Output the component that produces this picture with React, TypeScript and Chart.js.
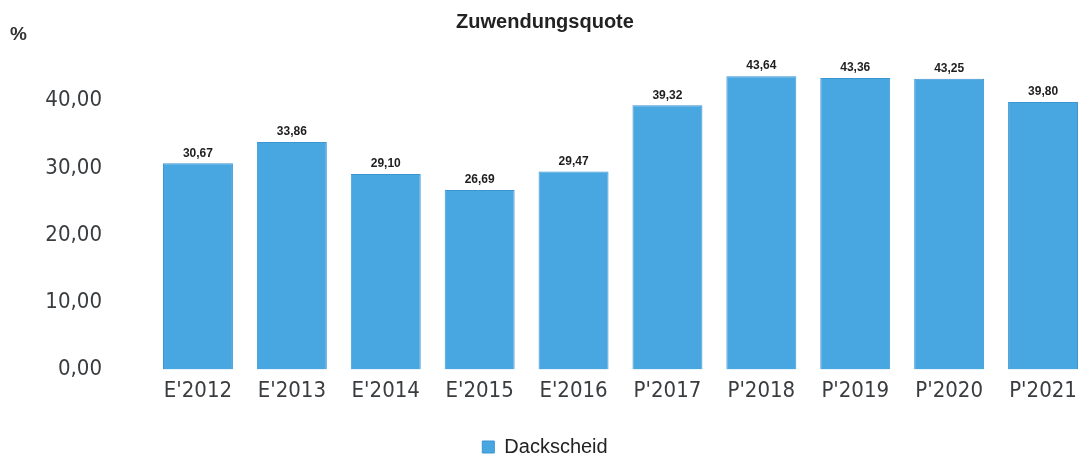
import React, { useEffect, useRef } from 'react';
import { Chart, registerables } from 'chart.js';

Chart.register(...registerables);

const categories: string[] = ["E'2012", "E'2013", "E'2014", "E'2015", "E'2016", "P'2017", "P'2018", "P'2019", "P'2020", "P'2021"];
const values: number[] = [30.67, 33.86, 29.10, 26.69, 29.47, 39.32, 43.64, 43.36, 43.25, 39.80];
const seriesName = 'Dackscheid';
const chartTitle = 'Zuwendungsquote';
const unitLabel = '%';
const yMin = 0;
const yMax = 45;
const yStep = 10;

const fmt = (v: number) => v.toFixed(2).replace('.', ',');

const tickFont = { family: '"DejaVu Sans Condensed", "DejaVu Sans", sans-serif', size: 22 };

const valueLabelPlugin = {
  id: 'valueLabels',
  afterDatasetsDraw(chart: any) {
    const ctx = chart.ctx;
    const meta = chart.getDatasetMeta(0);
    ctx.save();
    ctx.font = 'bold 12px "Liberation Sans", Arial, sans-serif';
    ctx.fillStyle = '#1e1e1e';
    ctx.textAlign = 'center';
    ctx.textBaseline = 'bottom';
    meta.data.forEach((el: any, i: number) => {
      ctx.fillText(fmt(values[i]), el.x, el.y - 4);
    });
    ctx.restore();
  },
};

const unitPlugin = {
  id: 'unitLabel',
  afterDraw(chart: any) {
    const ctx = chart.ctx;
    ctx.save();
    ctx.font = 'bold 19px "Liberation Sans", Arial, sans-serif';
    ctx.fillStyle = '#333333';
    ctx.textAlign = 'left';
    ctx.textBaseline = 'middle';
    ctx.fillText(unitLabel, 10, 35);
    ctx.restore();
  },
};

export default function App() {
  const canvasRef = useRef<HTMLCanvasElement | null>(null);

  useEffect(() => {
    if (!canvasRef.current) return;
    const chart = new Chart(canvasRef.current, {
      type: 'bar',
      data: {
        labels: categories,
        datasets: [
          {
            label: seriesName,
            data: values,
            backgroundColor: '#48a6e0',
            borderColor: '#3b96d2',
            borderWidth: 1,
            categoryPercentage: 1,
            barPercentage: 0.745,
          },
        ],
      },
      options: {
        animation: false,
        responsive: true,
        maintainAspectRatio: false,
        layout: { padding: { left: 0, right: 8, top: 0, bottom: 0 } },
        plugins: {
          title: {
            display: true,
            text: chartTitle,
            color: '#222222',
            font: { family: '"Liberation Sans", Arial, sans-serif', size: 20, weight: 'bold' },
            padding: { top: 10, bottom: 33 },
          },
          legend: {
            display: true,
            position: 'bottom',
            labels: {
              boxWidth: 12,
              boxHeight: 12,
              padding: 25,
              color: '#222222',
              font: { family: '"Liberation Sans", Arial, sans-serif', size: 20 },
            },
          },
          tooltip: { enabled: false },
        },
        scales: {
          x: {
            grid: { display: false, drawTicks: false },
            border: { display: false },
            ticks: { color: '#3a3d40', font: tickFont, padding: 8, maxRotation: 0, autoSkip: false },
          },
          y: {
            min: yMin,
            max: yMax,
            grid: { display: false, drawTicks: false },
            border: { display: false },
            afterFit: (scale: any) => {
              scale.width = 151;
            },
            ticks: {
              stepSize: yStep,
              includeBounds: false,
              color: '#3a3d40',
              font: tickFont,
              padding: 49,
              callback: (v: any) => fmt(Number(v)),
            },
          },
        },
      },
      plugins: [valueLabelPlugin, unitPlugin],
    });
    return () => chart.destroy();
  }, []);

  return (
    <div style={{ position: 'fixed', left: 0, top: 0, width: 1080, height: 457, overflow: 'hidden', background: '#ffffff' }}>
      <div style={{ position: 'relative', width: 1098, height: 467 }}>
        <canvas ref={canvasRef} />
      </div>
    </div>
  );
}
